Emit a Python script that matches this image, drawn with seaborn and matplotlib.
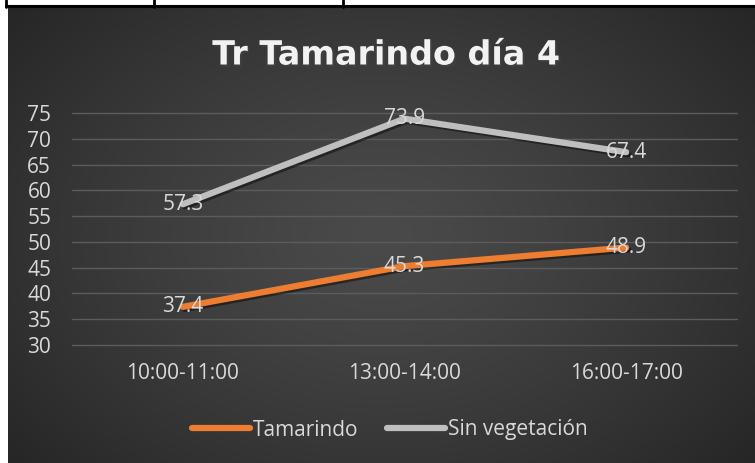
import numpy as np
import pandas as pd
import matplotlib
matplotlib.use("Agg")
import matplotlib.pyplot as plt
import matplotlib.patheffects as pe
from matplotlib.lines import Line2D
import seaborn as sns

# Data
horarios = ["10:00-11:00", "13:00-14:00", "16:00-17:00"]
tamarindo = [37.4, 45.3, 48.9]
sin_vegetacion = [57.3, 73.9, 67.4]
series_names = ["Tamarindo", "Sin vegetación"]
y_ticks = [30, 35, 40, 45, 50, 55, 60, 65, 70, 75]

colors = {"Tamarindo": "#ED7D31", "Sin vegetación": "#BFBFBF"}
text_color = "#D9D9D9"

sns.set_theme(style="dark")
plt.rcParams["font.family"] = ["Open Sans", "DejaVu Sans"]

W, H = 755, 463
fig = plt.figure(figsize=(W / 100, H / 100), dpi=100)
fig.patch.set_facecolor("white")

# Dark chart area with radial gradient
x0, y0 = 8, 7
bg = fig.add_axes([x0 / W, 0, (W - x0) / W, (H - y0) / H], zorder=0)
gx = np.linspace(-1, 1, 400)
gy = np.linspace(-1, 1, 250)
XX, YY = np.meshgrid(gx, gy)
R = np.sqrt((XX * 1.0) ** 2 + (YY * 0.85) ** 2) / np.sqrt(1 + 0.85 ** 2)
R = np.clip(R, 0, 1)
inner, outer = 0x4A / 255, 0x26 / 255
val = inner + (outer - inner) * R ** 1.3
img = np.dstack([val, val, val])
bg.imshow(img, aspect="auto", extent=[0, 1, 0, 1], interpolation="bilinear")
bg.set_axis_off()

# Table borders in the top strip
fig.add_artist(Line2D([6 / W, 1], [1 - 6 / H, 1 - 6 / H], color="black", lw=2.2))
fig.add_artist(Line2D([6 / W, 6 / W], [1 - 7 / H, 1], color="black", lw=2))
for xv in (154, 343):
    fig.add_artist(Line2D([xv / W, xv / W], [1 - 7 / H, 1], color="black", lw=2))

# Main plot
left, right, top, bottom = 72, 737, 113, 345
ax = fig.add_axes([left / W, (H - bottom) / H, (right - left) / W, (bottom - top) / H], zorder=1)
ax.set_facecolor("none")

df = pd.DataFrame({
    "horario": list(range(len(horarios))) * 2,
    "valor": tamarindo + sin_vegetacion,
    "serie": [series_names[0]] * 3 + [series_names[1]] * 3,
})
sns.lineplot(data=df, x="horario", y="valor", hue="serie", palette=colors,
             linewidth=4.5, ax=ax, legend=False, sort=False)
for line in ax.lines:
    line.set_solid_capstyle("round")
    line.set_path_effects([pe.SimpleLineShadow(offset=(1.5, -1.5), alpha=0.45, shadow_color="black"),
                           pe.Normal()])

# Data labels
for vals in (tamarindo, sin_vegetacion):
    for i, v in enumerate(vals):
        ax.text(i, v, f"{v:.1f}", ha="center", va="center", fontsize=15,
                color=text_color, zorder=5)

ax.set_xlim(-0.5, 2.5)
ax.set_ylim(30, 75)
ax.set_yticks(y_ticks)
ax.set_xticks(range(len(horarios)))
ax.set_xticklabels(horarios)
ax.tick_params(axis="y", length=0, pad=15, labelsize=15, labelcolor=text_color)
ax.tick_params(axis="x", length=0, pad=13, labelsize=15, labelcolor=text_color)
ax.grid(axis="y", color="#5C5C5C", linewidth=1.0)
ax.grid(axis="x", visible=False)
ax.set_axisbelow(True)
for s in ax.spines.values():
    s.set_visible(False)
ax.set_xlabel("")
ax.set_ylabel("")
for gl in ax.get_ygridlines():
    gl.set_clip_on(False)

# Title
fig.text(386 / W, 1 - 55 / H, "Tr Tamarindo día 4", ha="center", va="center",
         fontsize=24, fontweight="bold", color="#F2F2F2", family=["DejaVu Sans"],
         path_effects=[pe.withSimplePatchShadow(offset=(1.5, -1.5), alpha=0.4)])

# Legend
handles = [Line2D([], [], color=colors[n], lw=4.5, solid_capstyle="round") for n in series_names]
leg = fig.legend(handles, series_names, loc="center", bbox_to_anchor=(390 / W, 1 - 430 / H),
                 ncol=2, frameon=False, fontsize=15, handlelength=2.75, handletextpad=0.15,
                 columnspacing=1.4, labelcolor=text_color)

fig.savefig("out.png", dpi=100, facecolor=fig.get_facecolor())
